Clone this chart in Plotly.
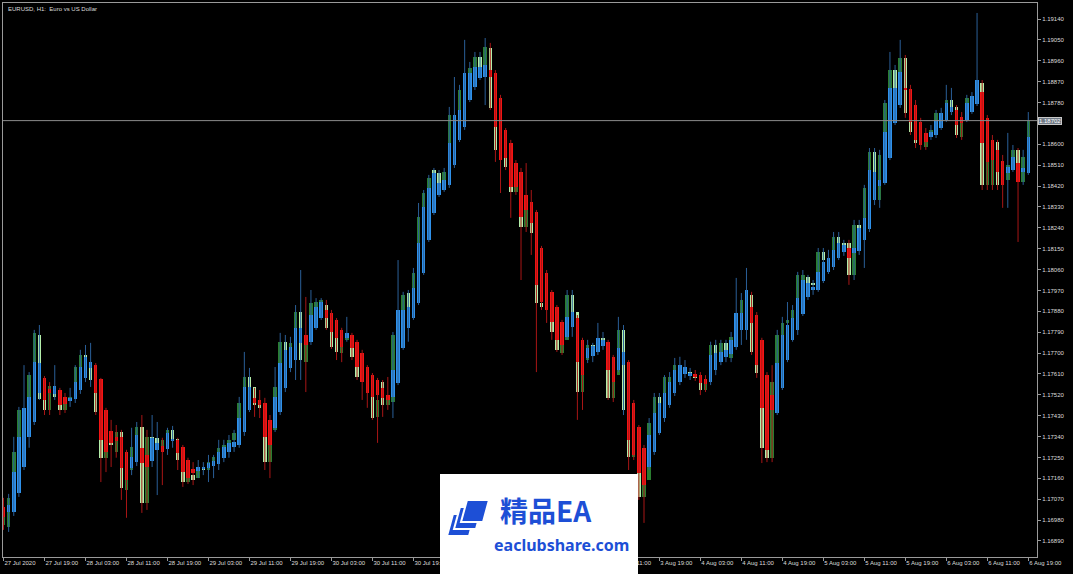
import plotly.graph_objects as go

# ---------------- data (EURUSD H1, 27 Jul 2020 11:00 -> 6 Aug 2020 19:00) ----------------
chart_title = "EURUSD, H1:  Euro vs US Dollar"

# Heiken Ashi open / close (blue = up, red = down)
ha_open = [
    1.17037, 1.17015, 1.17015, 1.17097, 1.17209, 1.17339, 1.17403, 1.17528, 1.17593, 1.17545,
    1.17524, 1.17541, 1.17511, 1.17494, 1.17502, 1.17541, 1.17593, 1.17636, 1.17648, 1.17588,
    1.17455, 1.17365, 1.17339, 1.17339, 1.17274, 1.17205, 1.17230, 1.17292, 1.17261, 1.17235,
    1.17283, 1.17300, 1.17287, 1.17322, 1.17326, 1.17296, 1.17239, 1.17200, 1.17192, 1.17200,
    1.17205, 1.17213, 1.17222, 1.17249, 1.17274, 1.17296, 1.17304, 1.17360, 1.17455, 1.17507,
    1.17498, 1.17485, 1.17412, 1.17378, 1.17446, 1.17550, 1.17636, 1.17670, 1.17744, 1.17778,
    1.17749, 1.17809, 1.17851, 1.17886, 1.17873, 1.17843, 1.17800, 1.17766, 1.17778, 1.17749,
    1.17701, 1.17640, 1.17605, 1.17584, 1.17550, 1.17519, 1.17511, 1.17571, 1.17722, 1.17809,
    1.17851, 1.17916, 1.18045, 1.18188, 1.18304, 1.18382, 1.18403, 1.18425, 1.18511, 1.18619,
    1.18675, 1.18791, 1.18847, 1.18886, 1.18890, 1.18920, 1.18907, 1.18800, 1.18662, 1.18606,
    1.18519, 1.18481, 1.18382, 1.18351, 1.18308, 1.18153, 1.18045, 1.17964, 1.17899, 1.17834,
    1.17770, 1.17813, 1.17851, 1.17757, 1.17679, 1.17688, 1.17705, 1.17731, 1.17749, 1.17684,
    1.17627, 1.17648, 1.17661, 1.17485, 1.17382, 1.17292, 1.17209, 1.17274, 1.17356, 1.17420,
    1.17476, 1.17528, 1.17575, 1.17610, 1.17601, 1.17610, 1.17605, 1.17588, 1.17575, 1.17627,
    1.17661, 1.17684, 1.17697, 1.17727, 1.17800, 1.17800, 1.17899, 1.17864, 1.17757, 1.17605,
    1.17519, 1.17442, 1.17550, 1.17670, 1.17757, 1.17800, 1.17869, 1.17942, 1.17972, 1.17972,
    1.18011, 1.18050, 1.18071, 1.18110, 1.18136, 1.18153, 1.18132, 1.18140, 1.18188, 1.18235,
    1.18360, 1.18420, 1.18433, 1.18541, 1.18692, 1.18769, 1.18843, 1.18838, 1.18769, 1.18696,
    1.18649, 1.18632, 1.18640, 1.18670, 1.18705, 1.18739, 1.18748, 1.18718, 1.18705, 1.18739,
    1.18774, 1.18825, 1.18714, 1.18619, 1.18576, 1.18528, 1.18476, 1.18489, 1.18519, 1.18481,
    1.18476,
]
ha_close = [
    1.16994, 1.17045, 1.17187, 1.17339, 1.17464, 1.17511, 1.17661, 1.17657, 1.17498, 1.17528,
    1.17558, 1.17476, 1.17481, 1.17507, 1.17575, 1.17640, 1.17684, 1.17661, 1.17528, 1.17326,
    1.17274, 1.17313, 1.17322, 1.17205, 1.17153, 1.17253, 1.17347, 1.17226, 1.17209, 1.17335,
    1.17313, 1.17274, 1.17356, 1.17330, 1.17270, 1.17187, 1.17161, 1.17183, 1.17209, 1.17209,
    1.17226, 1.17235, 1.17274, 1.17296, 1.17313, 1.17317, 1.17420, 1.17554, 1.17554, 1.17485,
    1.17476, 1.17339, 1.17304, 1.17511, 1.17657, 1.17714, 1.17727, 1.17809, 1.17809, 1.17735,
    1.17864, 1.17899, 1.17920, 1.17851, 1.17791, 1.17766, 1.17727, 1.17787, 1.17722, 1.17640,
    1.17575, 1.17528, 1.17511, 1.17519, 1.17507, 1.17498, 1.17627, 1.17886, 1.17886, 1.17899,
    1.17981, 1.18175, 1.18330, 1.18412, 1.18476, 1.18433, 1.18446, 1.18606, 1.18726, 1.18748,
    1.18907, 1.18907, 1.18933, 1.18933, 1.18942, 1.18890, 1.18675, 1.18532, 1.18541, 1.18416,
    1.18416, 1.18287, 1.18317, 1.18261, 1.17994, 1.17920, 1.17886, 1.17834, 1.17757, 1.17735,
    1.17856, 1.17877, 1.17661, 1.17605, 1.17722, 1.17731, 1.17766, 1.17757, 1.17627, 1.17575,
    1.17722, 1.17705, 1.17326, 1.17261, 1.17183, 1.17131, 1.17347, 1.17442, 1.17485, 1.17528,
    1.17575, 1.17627, 1.17648, 1.17640, 1.17614, 1.17597, 1.17571, 1.17567, 1.17692, 1.17701,
    1.17705, 1.17714, 1.17757, 1.17873, 1.17873, 1.17972, 1.17830, 1.17648, 1.17464, 1.17283,
    1.17455, 1.17657, 1.17778, 1.17821, 1.17851, 1.17937, 1.18015, 1.18002, 1.17985, 1.18050,
    1.18093, 1.18110, 1.18145, 1.18175, 1.18166, 1.18110, 1.18153, 1.18239, 1.18282, 1.18489,
    1.18481, 1.18446, 1.18653, 1.18843, 1.18843, 1.18912, 1.18834, 1.18696, 1.18619, 1.18597,
    1.18610, 1.18653, 1.18705, 1.18735, 1.18778, 1.18761, 1.18683, 1.18692, 1.18778, 1.18808,
    1.18877, 1.18606, 1.18524, 1.18532, 1.18481, 1.18425, 1.18502, 1.18545, 1.18438, 1.18498,
    1.18632,
]
# real price candles (dark green = up, pale green = down)
bar_open = [
    1.16959, 1.16951, 1.17067, 1.17274, 1.17455, 1.17390, 1.17605, 1.17778, 1.17502, 1.17455,
    1.17558, 1.17511, 1.17455, 1.17494, 1.17511, 1.17640, 1.17692, 1.17661, 1.17584, 1.17446,
    1.17249, 1.17326, 1.17274, 1.17360, 1.17110, 1.17196, 1.17296, 1.17382, 1.17054, 1.17339,
    1.17335, 1.17292, 1.17326, 1.17369, 1.17330, 1.17239, 1.17144, 1.17174, 1.17161, 1.17205,
    1.17196, 1.17230, 1.17253, 1.17292, 1.17304, 1.17326, 1.17356, 1.17485, 1.17597, 1.17554,
    1.17476, 1.17464, 1.17230, 1.17369, 1.17554, 1.17749, 1.17714, 1.17744, 1.17877, 1.17661,
    1.17757, 1.17899, 1.17920, 1.17907, 1.17809, 1.17778, 1.17701, 1.17757, 1.17774, 1.17684,
    1.17597, 1.17584, 1.17541, 1.17425, 1.17575, 1.17476, 1.17489, 1.17778, 1.17843, 1.17959,
    1.17899, 1.18045, 1.18287, 1.18390, 1.18489, 1.18476, 1.18433, 1.18481, 1.18726, 1.18705,
    1.18834, 1.18877, 1.18929, 1.18976, 1.18933, 1.19015, 1.18757, 1.18576, 1.18541, 1.18502,
    1.18395, 1.18433, 1.18244, 1.18338, 1.18218, 1.17916, 1.17899, 1.17929, 1.17791, 1.17701,
    1.17757, 1.17951, 1.17877, 1.17532, 1.17670, 1.17735, 1.17714, 1.17766, 1.17749, 1.17507,
    1.17605, 1.17800, 1.17455, 1.17253, 1.17283, 1.17080, 1.17153, 1.17399, 1.17511, 1.17485,
    1.17575, 1.17597, 1.17648, 1.17636, 1.17618, 1.17601, 1.17593, 1.17541, 1.17584, 1.17735,
    1.17701, 1.17744, 1.17679, 1.17770, 1.17843, 1.17929, 1.17951, 1.17705, 1.17614, 1.17292,
    1.17249, 1.17575, 1.17757, 1.17830, 1.17843, 1.17886, 1.18006, 1.18028, 1.18002, 1.17994,
    1.18136, 1.18101, 1.18110, 1.18201, 1.18175, 1.18175, 1.18037, 1.18252, 1.18222, 1.18412,
    1.18567, 1.18360, 1.18554, 1.18778, 1.18920, 1.18843, 1.18972, 1.18735, 1.18653, 1.18606,
    1.18589, 1.18640, 1.18662, 1.18735, 1.18726, 1.18791, 1.18761, 1.18632, 1.18714, 1.18800,
    1.18804, 1.18864, 1.18425, 1.18425, 1.18610, 1.18425, 1.18446, 1.18511, 1.18576, 1.18438,
    1.18545,
]
bar_close = [
    1.17024, 1.17076, 1.17274, 1.17455, 1.17390, 1.17605, 1.17787, 1.17502, 1.17455, 1.17558,
    1.17511, 1.17455, 1.17494, 1.17511, 1.17640, 1.17692, 1.17661, 1.17584, 1.17446, 1.17249,
    1.17326, 1.17304, 1.17360, 1.17119, 1.17196, 1.17296, 1.17382, 1.17054, 1.17339, 1.17304,
    1.17292, 1.17326, 1.17369, 1.17330, 1.17239, 1.17144, 1.17174, 1.17153, 1.17205, 1.17196,
    1.17230, 1.17253, 1.17292, 1.17304, 1.17326, 1.17356, 1.17485, 1.17597, 1.17554, 1.17476,
    1.17464, 1.17230, 1.17369, 1.17554, 1.17749, 1.17714, 1.17744, 1.17877, 1.17670, 1.17757,
    1.17916, 1.17920, 1.17929, 1.17809, 1.17727, 1.17705, 1.17757, 1.17774, 1.17684, 1.17597,
    1.17584, 1.17541, 1.17420, 1.17498, 1.17476, 1.17511, 1.17778, 1.17843, 1.17951, 1.17899,
    1.18045, 1.18287, 1.18390, 1.18455, 1.18463, 1.18433, 1.18481, 1.18726, 1.18705, 1.18834,
    1.18877, 1.18929, 1.18976, 1.18933, 1.19020, 1.18757, 1.18576, 1.18541, 1.18502, 1.18395,
    1.18433, 1.18244, 1.18338, 1.18218, 1.17916, 1.17899, 1.17929, 1.17791, 1.17714, 1.17757,
    1.17951, 1.17877, 1.17532, 1.17618, 1.17735, 1.17714, 1.17766, 1.17749, 1.17507, 1.17605,
    1.17800, 1.17455, 1.17253, 1.17283, 1.17080, 1.17153, 1.17399, 1.17511, 1.17485, 1.17597,
    1.17597, 1.17648, 1.17636, 1.17618, 1.17601, 1.17593, 1.17541, 1.17584, 1.17735, 1.17701,
    1.17744, 1.17714, 1.17770, 1.17843, 1.17929, 1.17951, 1.17705, 1.17614, 1.17292, 1.17249,
    1.17575, 1.17778, 1.17830, 1.17843, 1.17886, 1.18037, 1.18037, 1.18002, 1.17994, 1.18136,
    1.18101, 1.18110, 1.18201, 1.18175, 1.18162, 1.18037, 1.18252, 1.18222, 1.18412, 1.18567,
    1.18481, 1.18554, 1.18778, 1.18920, 1.18843, 1.18972, 1.18735, 1.18653, 1.18606, 1.18627,
    1.18640, 1.18662, 1.18735, 1.18726, 1.18791, 1.18761, 1.18640, 1.18714, 1.18800, 1.18804,
    1.18864, 1.18425, 1.18532, 1.18610, 1.18425, 1.18446, 1.18511, 1.18576, 1.18468, 1.18545,
    1.18702,
]
bar_high = [
    1.17076, 1.17093, 1.17339, 1.17468, 1.17648, 1.17618, 1.17800, 1.17821, 1.17601, 1.17575,
    1.17648, 1.17550, 1.17528, 1.17550, 1.17648, 1.17714, 1.17735, 1.17744, 1.17657, 1.17593,
    1.17464, 1.17412, 1.17390, 1.17369, 1.17283, 1.17378, 1.17403, 1.17433, 1.17369, 1.17433,
    1.17403, 1.17335, 1.17378, 1.17386, 1.17335, 1.17304, 1.17249, 1.17230, 1.17239, 1.17230,
    1.17261, 1.17261, 1.17326, 1.17326, 1.17347, 1.17369, 1.17511, 1.17705, 1.17636, 1.17550,
    1.17541, 1.17507, 1.17433, 1.17640, 1.17787, 1.17778, 1.17770, 1.17907, 1.18058, 1.17942,
    1.17972, 1.17937, 1.17937, 1.17929, 1.17886, 1.17851, 1.17809, 1.17856, 1.17787, 1.17757,
    1.17714, 1.17648, 1.17614, 1.17593, 1.17584, 1.17597, 1.17791, 1.18101, 1.17964, 1.17972,
    1.18067, 1.18347, 1.18403, 1.18468, 1.18498, 1.18489, 1.18498, 1.18761, 1.18890, 1.18856,
    1.19050, 1.18955, 1.18998, 1.18998, 1.19058, 1.19037, 1.18920, 1.18813, 1.18670, 1.18619,
    1.18532, 1.18498, 1.18519, 1.18403, 1.18317, 1.18162, 1.18058, 1.17972, 1.17907, 1.17843,
    1.17972, 1.17972, 1.17864, 1.17766, 1.17757, 1.17744, 1.17830, 1.17791, 1.17757, 1.17692,
    1.17856, 1.17821, 1.17670, 1.17498, 1.17390, 1.17304, 1.17420, 1.17528, 1.17528, 1.17605,
    1.17618, 1.17679, 1.17684, 1.17670, 1.17636, 1.17627, 1.17618, 1.17605, 1.17749, 1.17757,
    1.17757, 1.17757, 1.17791, 1.18024, 1.17959, 1.18067, 1.17964, 1.17877, 1.17766, 1.17618,
    1.17648, 1.17800, 1.17856, 1.17920, 1.17907, 1.18050, 1.18058, 1.18037, 1.18015, 1.18153,
    1.18153, 1.18145, 1.18222, 1.18222, 1.18188, 1.18188, 1.18274, 1.18274, 1.18425, 1.18584,
    1.18584, 1.18576, 1.18791, 1.18998, 1.18942, 1.19050, 1.18985, 1.18856, 1.18791, 1.18714,
    1.18670, 1.18683, 1.18748, 1.18757, 1.18856, 1.18843, 1.18769, 1.18739, 1.18813, 1.18825,
    1.19166, 1.18877, 1.18726, 1.18640, 1.18619, 1.18554, 1.18649, 1.18597, 1.18584, 1.18576,
    1.18739,
]
bar_low = [
    1.16938, 1.16929, 1.16998, 1.17080, 1.17196, 1.17292, 1.17390, 1.17498, 1.17433, 1.17433,
    1.17498, 1.17433, 1.17442, 1.17468, 1.17485, 1.17524, 1.17575, 1.17554, 1.17433, 1.17144,
    1.17187, 1.17209, 1.17249, 1.17067, 1.16990, 1.17174, 1.17213, 1.17011, 1.17024, 1.17209,
    1.17088, 1.17131, 1.17261, 1.17292, 1.17196, 1.17123, 1.17136, 1.17131, 1.17161, 1.17174,
    1.17144, 1.17161, 1.17196, 1.17230, 1.17249, 1.17274, 1.17292, 1.17343, 1.17446, 1.17425,
    1.17420, 1.17196, 1.17161, 1.17360, 1.17433, 1.17532, 1.17618, 1.17584, 1.17584, 1.17532,
    1.17735, 1.17800, 1.17843, 1.17800, 1.17718, 1.17670, 1.17661, 1.17749, 1.17670, 1.17584,
    1.17498, 1.17464, 1.17412, 1.17313, 1.17425, 1.17455, 1.17420, 1.17562, 1.17714, 1.17749,
    1.17843, 1.17907, 1.18037, 1.18179, 1.18295, 1.18373, 1.18395, 1.18412, 1.18498, 1.18610,
    1.18662, 1.18782, 1.18834, 1.18877, 1.18769, 1.18748, 1.18524, 1.18390, 1.18489, 1.18283,
    1.18382, 1.18015, 1.18222, 1.18123, 1.17618, 1.17886, 1.17830, 1.17757, 1.17705, 1.17692,
    1.17757, 1.17770, 1.17412, 1.17455, 1.17657, 1.17661, 1.17692, 1.17714, 1.17498, 1.17489,
    1.17618, 1.17433, 1.17196, 1.17239, 1.17067, 1.16968, 1.17196, 1.17261, 1.17347, 1.17403,
    1.17464, 1.17515, 1.17562, 1.17593, 1.17584, 1.17580, 1.17519, 1.17532, 1.17562, 1.17605,
    1.17648, 1.17661, 1.17661, 1.17714, 1.17735, 1.17757, 1.17692, 1.17593, 1.17226, 1.17230,
    1.17230, 1.17433, 1.17541, 1.17661, 1.17749, 1.17778, 1.17860, 1.17929, 1.17951, 1.17964,
    1.18002, 1.18041, 1.18058, 1.18101, 1.18119, 1.17994, 1.18015, 1.18123, 1.18067, 1.18222,
    1.18338, 1.18326, 1.18425, 1.18532, 1.18683, 1.18757, 1.18714, 1.18640, 1.18584, 1.18576,
    1.18576, 1.18619, 1.18627, 1.18662, 1.18696, 1.18726, 1.18627, 1.18619, 1.18696, 1.18731,
    1.18765, 1.18403, 1.18403, 1.18403, 1.18403, 1.18326, 1.18326, 1.18481, 1.18179, 1.18425,
    1.18468,
]

time_labels = [
    "27 Jul 2020", "27 Jul 19:00", "28 Jul 03:00", "28 Jul 11:00", "28 Jul 19:00",
    "29 Jul 03:00", "29 Jul 11:00", "29 Jul 19:00", "30 Jul 03:00", "30 Jul 11:00",
    "30 Jul 19:00", "31 Jul 03:00", "31 Jul 11:00", "31 Jul 19:00", "3 Aug 03:00",
    "3 Aug 11:00", "3 Aug 19:00", "4 Aug 03:00", "4 Aug 11:00", "4 Aug 19:00",
    "5 Aug 03:00", "5 Aug 11:00", "5 Aug 19:00", "6 Aug 03:00", "6 Aug 11:00",
    "6 Aug 19:00",
]
bars_per_label = 8

price_ticks = [
    1.16890, 1.16980, 1.17070, 1.17160, 1.17250, 1.17340, 1.17430, 1.17520, 1.17610,
    1.17700, 1.17790, 1.17880, 1.17970, 1.18060, 1.18150, 1.18240, 1.18330, 1.18420,
    1.18510, 1.18600, 1.18780, 1.18870, 1.18960, 1.19050, 1.19140,
]
bid_price = 1.18702

# ---------------- style ----------------
BLUE = "#2f91ea"
RED = "#f41414"
BLUE_WICK = "#2a5f98"
RED_WICK = "#a81616"
DARK_GREEN = "#2a7d30"
PALE_GREEN = "#b4eeaa"
AXIS = "#9a9a9a"
TEXT = "#dcdcdc"
FONT = "Liberation Sans"
MIN_BODY = 0.00003
BODY_W = 0.68

W, H = 1079, 579
PL, PT, PR, PB = 3, 3, 1037, 557  # plot area in px


def px_x(px):
    return (px - PL) / (PR - PL)


def px_y(py):
    return (PB - py) / (PB - PT)


n = len(bar_close)
idx = list(range(n))

# real candle bodies
real_base, real_len, real_col = [], [], []
for o, c in zip(bar_open, bar_close):
    real_base.append(min(o, c))
    real_len.append(max(abs(c - o), MIN_BODY))
    real_col.append(DARK_GREEN if c >= o else PALE_GREEN)

# heiken ashi bodies and wicks
ha_base, ha_len, ha_col = [], [], []
up_x, up_y, dn_x, dn_y = [], [], [], []
for i, (o, c, h, l) in enumerate(zip(ha_open, ha_close, bar_high, bar_low)):
    ha_base.append(min(o, c))
    ha_len.append(max(abs(c - o), MIN_BODY))
    up = c >= o
    ha_col.append(BLUE if up else RED)
    hi, lo = max(h, o, c), min(l, o, c)
    if up:
        up_x += [i, i, None]
        up_y += [lo, hi, None]
    else:
        dn_x += [i, i, None]
        dn_y += [lo, hi, None]

fig = go.Figure()
fig.add_trace(go.Bar(x=idx, y=real_len, base=real_base, width=BODY_W,
                     marker=dict(color=real_col, line=dict(width=0)), hoverinfo="skip"))
fig.add_trace(go.Scatter(x=up_x, y=up_y, mode="lines", line=dict(color=BLUE_WICK, width=1),
                         hoverinfo="skip"))
fig.add_trace(go.Scatter(x=dn_x, y=dn_y, mode="lines", line=dict(color=RED_WICK, width=1),
                         hoverinfo="skip"))
fig.add_trace(go.Bar(x=idx, y=ha_len, base=ha_base, width=BODY_W,
                     marker=dict(color=ha_col, line=dict(width=0)), hoverinfo="skip"))

tick_pos = list(range(0, n, bars_per_label))[: len(time_labels)]

fig.update_layout(
    width=W, height=H,
    margin=dict(l=PL, r=W - PR, t=PT, b=H - PB, pad=0, autoexpand=False),
    paper_bgcolor="black", plot_bgcolor="black",
    showlegend=False, barmode="overlay", bargap=0, hovermode=False,
    font=dict(family=FONT, size=6, color=TEXT),
    xaxis=dict(
        range=[-0.1, 201.7], showgrid=False, zeroline=False, automargin=False,
        tickmode="array", tickvals=tick_pos, ticktext=time_labels, tickangle=0,
        ticks="outside", ticklen=3, tickcolor=AXIS, tickwidth=1,
        ticklabelposition="outside right",
        tickfont=dict(family=FONT, size=6, color=TEXT),
        showline=True, linecolor=AXIS, linewidth=1, mirror=True,
        fixedrange=True,
    ),
    yaxis=dict(
        range=[1.16821, 1.19209], side="right", showgrid=False, zeroline=False,
        automargin=False,
        tickmode="array", tickvals=price_ticks,
        ticktext=["%.5f" % v for v in price_ticks],
        ticks="outside", ticklen=3, tickcolor=AXIS, tickwidth=1,
        tickfont=dict(family=FONT, size=6, color=TEXT),
        showline=True, linecolor=AXIS, linewidth=1, mirror=True,
        fixedrange=True,
    ),
)

shapes = [
    # bid line
    dict(type="line", xref="paper", yref="y", x0=0, x1=1, y0=bid_price, y1=bid_price,
         line=dict(color="#8c8c8c", width=1), layer="above"),
    # white page edges outside the terminal window
    dict(type="rect", xref="paper", yref="paper", x0=px_x(1073), x1=px_x(W + 2),
         y0=px_y(H + 2), y1=px_y(-2), fillcolor="white", line=dict(width=0), layer="above"),
    dict(type="rect", xref="paper", yref="paper", x0=px_x(-2), x1=px_x(W + 2),
         y0=px_y(H + 2), y1=px_y(574), fillcolor="white", line=dict(width=0), layer="above"),
    # watermark card
    dict(type="rect", xref="paper", yref="paper", x0=px_x(440), x1=px_x(638),
         y0=px_y(H + 2), y1=px_y(474), fillcolor="white", line=dict(width=0), layer="above"),
]
# watermark logo: three stacked layers
logo_color = "#1d4fd6"
for dx, dy in [(0, 14), (7, 7), (14, 0)]:
    x0, y0 = 447 + dx, 500 + dy
    path = "M {} {} L {} {} L {} {} L {} {} Z".format(
        px_x(x0 + 6), px_y(y0), px_x(x0 + 28), px_y(y0),
        px_x(x0 + 22), px_y(y0 + 22), px_x(x0), px_y(y0 + 22))
    shapes.append(dict(type="path", xref="paper", yref="paper", path=path,
                       fillcolor=logo_color, line=dict(color="white", width=2), layer="above"))
fig.update_layout(shapes=shapes)

annotations = [
    dict(xref="paper", yref="paper", x=px_x(6), y=px_y(9), text=chart_title,
         showarrow=False, xanchor="left", yanchor="middle",
         font=dict(family=FONT, size=6, color=TEXT)),
    dict(xref="paper", yref="y", x=1, y=bid_price, text="%.5f" % bid_price, xshift=1,
         showarrow=False, xanchor="left", yanchor="middle",
         bgcolor="#707a86", bordercolor="#c8c8c8", borderwidth=1, borderpad=0,
         font=dict(family=FONT, size=6, color="white")),
    dict(xref="paper", yref="paper", x=px_x(498), y=px_y(510), text="<b>精品EA</b>",
         showarrow=False, xanchor="left", yanchor="middle",
         font=dict(family="Noto Sans CJK SC", size=28, color=logo_color)),
    dict(xref="paper", yref="paper", x=px_x(492), y=px_y(545), text="<b>eaclubshare.com</b>",
         showarrow=False, xanchor="left", yanchor="middle",
         font=dict(family="Noto Sans", size=16, color=logo_color)),
]
fig.update_layout(annotations=annotations)

fig.write_html(
    "out.html",
    config={"displayModeBar": False, "staticPlot": True},
    post_script="document.body.style.margin='0';document.body.style.overflow='hidden';",
)
